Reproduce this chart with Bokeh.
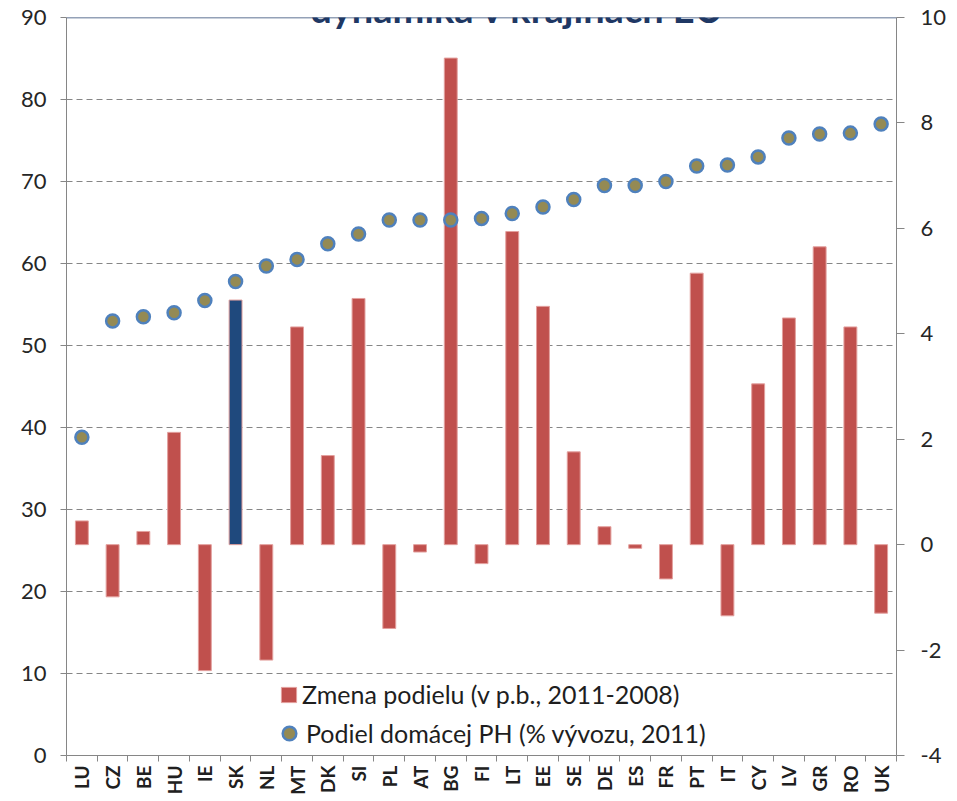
import math
from bokeh.plotting import figure
from bokeh.models import (Range1d, LinearAxis, FixedTicker, Legend, LegendItem,
                          Label, Span, ColumnDataSource)
from bokeh.embed import file_html
from bokeh.resources import INLINE

# ---- data ----
countries = ["LU", "CZ", "BE", "HU", "IE", "SK", "NL", "MT", "DK", "SI", "PL", "AT", "BG", "FI",
             "LT", "EE", "SE", "DE", "ES", "FR", "PT", "IT", "CY", "LV", "GR", "RO", "UK"]
zmena_podielu = [0.45, -0.99, 0.25, 2.13, -2.39, 4.64, -2.19, 4.13, 1.69, 4.67, -1.59, -0.14, 9.23, -0.36,
                 5.94, 4.52, 1.76, 0.34, -0.07, -0.65, 5.15, -1.35, 3.05, 4.30, 5.65, 4.13, -1.30]
podiel_domacej_ph = [38.8, 53.0, 53.5, 54.0, 55.5, 57.8, 59.7, 60.5, 62.4, 63.6, 65.3, 65.3, 65.3, 65.5,
                     66.1, 66.9, 67.8, 69.5, 69.5, 70.0, 71.9, 72.0, 73.0, 75.3, 75.8, 75.9, 77.0]
highlight = "SK"
left_ticks = list(range(0, 91, 10))
right_ticks = list(range(-4, 11, 2))
title_text = "dynamika v krajinách EÚ"
label_bars = "Zmena podielu (v p.b., 2011-2008)"
label_dots = "Podiel domácej PH (% vývozu, 2011)"

RED = "#C0504D"
NAVY = "#1F497D"
idx = list(range(len(countries)))
colors = [NAVY if c == highlight else RED for c in countries]
src = ColumnDataSource(dict(x=idx, cat=countries, zmena=zmena_podielu,
                            podiel=podiel_domacej_ph, color=colors))

FONT = "Lato"
GRAY = "#868686"

p = figure(width=949, height=797, x_range=Range1d(-0.5, len(countries) - 0.5),
           y_range=Range1d(0, 90), output_backend="svg", toolbar_location=None,
           min_border_left=66, min_border_right=50, min_border_top=17, min_border_bottom=40)
p.outline_line_color = None
p.background_fill_color = "white"
p.border_fill_color = "white"
p.extra_y_ranges = {"right": Range1d(-4, 10)}

# left axis
la = p.yaxis[0]
la.ticker = FixedTicker(ticks=left_ticks)
la.axis_line_color = GRAY
la.major_tick_line_color = GRAY
la.major_tick_in = 0
la.major_tick_out = 6
la.minor_tick_line_color = None
la.major_label_text_font = FONT
la.major_label_text_font_size = "22px"
la.major_label_text_color = "#262626"
la.major_label_standoff = 14

# right axis
ra = LinearAxis(y_range_name="right", ticker=FixedTicker(ticks=right_ticks))
ra.major_label_overrides = {t: str(t) for t in right_ticks}
ra.axis_line_color = GRAY
ra.major_tick_line_color = GRAY
ra.major_tick_in = 0
ra.major_tick_out = 8
ra.minor_tick_line_color = None
ra.major_label_text_font = FONT
ra.major_label_text_font_size = "22px"
ra.major_label_text_color = "#262626"
ra.major_label_standoff = 16
p.add_layout(ra, "right")

# bottom axis
xa = p.xaxis[0]
xa.ticker = FixedTicker(ticks=idx, minor_ticks=[i - 0.5 for i in range(len(countries) + 1)])
xa.major_label_overrides = {i: c for i, c in zip(idx, countries)}
xa.major_tick_line_color = None
xa.minor_tick_line_color = GRAY
xa.minor_tick_in = 0
xa.minor_tick_out = 6
xa.axis_line_color = GRAY
xa.major_label_orientation = math.pi / 2
xa.major_label_text_font = FONT
xa.major_label_text_font_style = "bold"
xa.major_label_text_font_size = "19px"
xa.major_label_text_color = "#202020"
xa.major_label_standoff = 4

# grid
p.xgrid.grid_line_color = None
p.ygrid.ticker = FixedTicker(ticks=left_ticks)
p.ygrid.grid_line_color = GRAY
p.ygrid.grid_line_dash = "6 4"
p.ygrid.grid_line_width = 1

# top border line
p.add_layout(Span(location=90, dimension="width", line_color="#2B4570", line_width=1.5))

bars = p.vbar(x="x", top="zmena", bottom=0, width=0.42, fill_color="color",
              line_color="#E3A09E", line_width=1, y_range_name="right", source=src)
dots = p.scatter(x="x", y="podiel", size=13, fill_color="#948A54", line_color="#4F81BD",
                 line_width=2.5, source=src)

leg1 = Legend(items=[LegendItem(label=label_bars, renderers=[bars], index=0)],
              location=(213, 46), glyph_width=19, glyph_height=19, label_standoff=4,
              padding=0, margin=0, border_line_color=None, background_fill_alpha=0,
              label_text_font=FONT, label_text_font_size="25px", label_text_color="#1e1e1e")
leg2 = Legend(items=[LegendItem(label=label_dots, renderers=[dots])],
              location=(206, 5), glyph_width=34, glyph_height=34, label_standoff=0,
              padding=0, margin=0, border_line_color=None, background_fill_alpha=0,
              label_text_font=FONT, label_text_font_size="25px", label_text_color="#1e1e1e")
p.add_layout(leg1)
p.add_layout(leg2)

p.add_layout(Label(x=451, y=748, x_units="screen", y_units="screen", text=title_text,
                   text_align="center", text_baseline="alphabetic", text_font=FONT,
                   text_font_style="bold", text_font_size="38px", text_color="#1F3864"))

open("out.html", "w").write(file_html(p, INLINE))
